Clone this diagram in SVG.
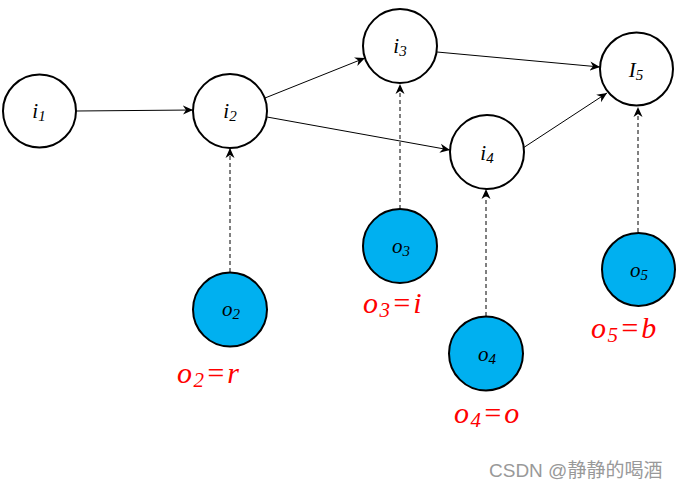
<svg xmlns="http://www.w3.org/2000/svg" width="677" height="489" viewBox="0 0 677 489">
<defs>
<marker id="ah" viewBox="0 0 10 10" refX="10" refY="5" markerWidth="10" markerHeight="10" markerUnits="userSpaceOnUse" orient="auto">
<path d="M0,0.5 L10,5 L0,9.5 L3,5 z" fill="#000"/>
</marker>
<style>
.n{fill:#fff;stroke:#000;stroke-width:2}
.o{fill:#00b0f0;stroke:#000;stroke-width:2}
.t{font-style:italic;font-size:21px;fill:#000;text-anchor:middle}
.r{font-style:italic;font-size:30px;fill:#ff0000;letter-spacing:1.5px}
.e{stroke:#000;stroke-width:1;fill:none;marker-end:url(#ah)}
.d{stroke-dasharray:4 3}
</style>
</defs>
<rect width="677" height="489" fill="#fff"/>
<g id="connectors">
<line class="e" x1="76" y1="111" x2="193" y2="110"/>
<line class="e" x1="265" y1="98" x2="365" y2="58"/>
<line class="e" x1="267" y1="117" x2="450" y2="150"/>
<line class="e" x1="437" y1="52" x2="600" y2="67"/>
<line class="e" x1="523" y1="148" x2="607" y2="93"/>
<line class="e d" x1="230" y1="272" x2="230" y2="148"/>
<line class="e d" x1="400" y1="209" x2="400" y2="84"/>
<line class="e d" x1="486" y1="316" x2="486" y2="189"/>
<line class="e d" x1="638" y1="232" x2="638" y2="107"/>
</g>
<g font-family="Liberation Serif, Times New Roman, serif">
<g id="i1"><circle class="n" cx="39.5" cy="111" r="36.5"/><text class="t" x="39" y="118">i<tspan font-size="15" dy="3">1</tspan></text></g>
<g id="i2"><circle class="n" cx="230" cy="111" r="37"/><text class="t" x="230" y="118">i<tspan font-size="15" dy="3">2</tspan></text></g>
<g id="i3"><circle class="n" cx="400" cy="46" r="37"/><text class="t" x="400" y="53">i<tspan font-size="15" dy="3">3</tspan></text></g>
<g id="i4"><circle class="n" cx="487" cy="152" r="37"/><text class="t" x="487" y="160">i<tspan font-size="15" dy="3">4</tspan></text></g>
<g id="I5"><circle class="n" cx="636.5" cy="69" r="36.5"/><text class="t" x="636" y="77">I<tspan font-size="15" dy="3">5</tspan></text></g>
<g id="o2"><circle class="o" cx="230" cy="309.5" r="37"/><text class="t" x="231" y="316">o<tspan font-size="15" dy="3">2</tspan></text></g>
<g id="o3"><circle class="o" cx="400" cy="246" r="37"/><text class="t" x="401" y="253">o<tspan font-size="15" dy="3">3</tspan></text></g>
<g id="o4"><circle class="o" cx="486" cy="353.5" r="37"/><text class="t" x="487" y="361">o<tspan font-size="15" dy="3">4</tspan></text></g>
<g id="o5"><circle class="o" cx="638.5" cy="269.5" r="36.5"/><text class="t" x="639" y="277">o<tspan font-size="15" dy="3">5</tspan></text></g>
<g id="labels">
<text class="r" x="177" y="383">o<tspan font-size="21" dy="4">2</tspan><tspan dy="-4">=r</tspan></text>
<text class="r" x="363" y="313">o<tspan font-size="21" dy="4">3</tspan><tspan dy="-4">=i</tspan></text>
<text class="r" x="454" y="423">o<tspan font-size="21" dy="4">4</tspan><tspan dy="-4">=o</tspan></text>
<text class="r" x="591" y="338">o<tspan font-size="21" dy="4">5</tspan><tspan dy="-4">=b</tspan></text>
</g>
</g>
<text x="489" y="477" font-family="Liberation Sans, Noto Sans CJK SC, sans-serif" font-size="19" fill="#999">CSDN @静静的喝酒</text>
</svg>
